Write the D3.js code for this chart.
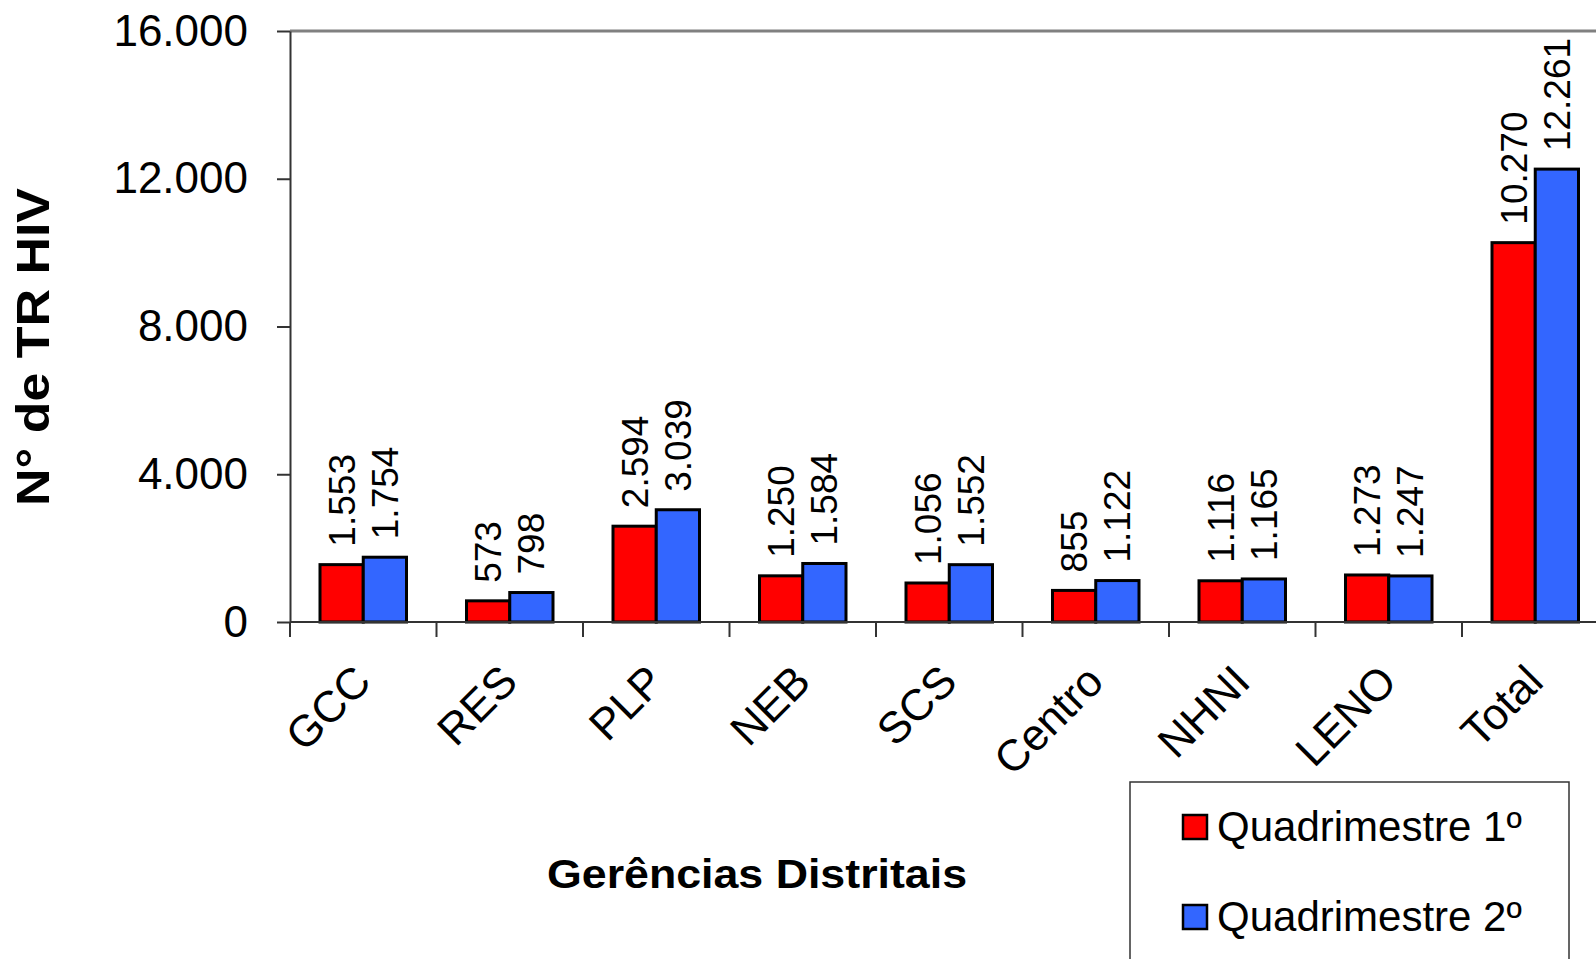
<!DOCTYPE html>
<html>
<head>
<meta charset="utf-8">
<script src="https://cdn.jsdelivr.net/npm/d3@7"></script>
<style>
  body { margin: 0; background: #fff; }
  svg { display: block; font-family: "Liberation Sans", Arial, sans-serif; }
  .axis path, .axis line { stroke: #333; stroke-width: 2; }
  .axis text { font-size: 44px; fill: #000; }
</style>
</head>
<body>
<div id="chart"></div>
<script>
// Data
const categories = ["GCC", "RES", "PLP", "NEB", "SCS", "Centro", "NHNI", "LENO", "Total"];
const series = ["Quadrimestre 1º", "Quadrimestre 2º"];
const q1Values = [1553, 573, 2594, 1250, 1056, 855, 1116, 1273, 10270];
const q2Values = [1754, 798, 3039, 1584, 1552, 1122, 1165, 1247, 12261];
const yTicks = [0, 4000, 8000, 12000, 16000];
const colors = ["#FF0000", "#3366FF"];

const width = 1596, height = 959;
const plot = {left: 290, top: 31, bottom: 622, band: 146.5};

const svg = d3.select("#chart").append("svg")
    .attr("width", width)
    .attr("height", height);

const fmt = d3.formatLocale({decimal: ",", thousands: ".", grouping: [3], currency: ["", ""]}).format(",d");

// Scales
const x0 = d3.scaleBand()
    .domain(categories)
    .range([plot.left, plot.left + plot.band * categories.length]);

const x1 = d3.scaleBand()
    .domain(series)
    .range([30, plot.band - 30]);

const y = d3.scaleLinear()
    .domain([0, 16000])
    .range([plot.bottom, plot.top]);

// Plot frame (top edge, right edge runs off the page)
svg.append("line")
    .attr("x1", plot.left).attr("x2", x0.range()[1])
    .attr("y1", plot.top).attr("y2", plot.top)
    .attr("stroke", "#808080").attr("stroke-width", 3);

// Y axis
svg.append("g")
    .attr("class", "axis")
    .attr("transform", `translate(${plot.left},0)`)
    .call(d3.axisLeft(y).tickValues(yTicks).tickSize(13).tickPadding(29).tickSizeOuter(0).tickFormat(fmt));

// Bars
const rows = categories.map((c, i) => ({cat: c, vals: [q1Values[i], q2Values[i]]}));

const groups = svg.append("g").selectAll("g")
    .data(rows)
    .join("g")
    .attr("transform", d => `translate(${x0(d.cat)},0)`);

groups.selectAll("rect")
    .data(d => d.vals.map((v, k) => ({key: series[k], v, k})))
    .join("rect")
    .attr("x", d => x1(d.key))
    .attr("y", d => y(d.v))
    .attr("width", x1.bandwidth())
    .attr("height", d => y(0) - y(d.v))
    .attr("fill", d => colors[d.k])
    .attr("stroke", "#000")
    .attr("stroke-width", 3);

// Value labels
groups.selectAll("text")
    .data(d => d.vals.map((v, k) => ({key: series[k], v, k})))
    .join("text")
    .attr("transform", d => `translate(${x1(d.key) + x1.bandwidth() / 2},${y(d.v) - 18}) rotate(-90)`)
    .attr("dy", "0.35em")
    .attr("font-size", 37)
    .text(d => fmt(d.v));

// X axis line and boundary ticks
const xAxis = svg.append("g").attr("class", "axis");
xAxis.append("line")
    .attr("x1", plot.left).attr("x2", x0.range()[1])
    .attr("y1", plot.bottom).attr("y2", plot.bottom);
xAxis.selectAll("line.tick")
    .data(categories.map(c => x0(c)).concat([x0.range()[1]]))
    .join("line")
    .attr("class", "tick")
    .attr("x1", d => d).attr("x2", d => d)
    .attr("y1", plot.bottom).attr("y2", plot.bottom + 15);

xAxis.selectAll("text")
    .data(categories)
    .join("text")
    .attr("transform", d => `translate(${x0(d) + x0.bandwidth() / 2 - 12},${plot.bottom + 40}) rotate(-45)`)
    .attr("text-anchor", "end")
    .attr("dy", "0.71em")
    .text(d => d);

// Axis titles
svg.append("text")
    .attr("x", 757).attr("y", 888)
    .attr("text-anchor", "middle")
    .attr("font-size", 40)
    .attr("font-weight", "bold")
    .attr("textLength", 420)
    .attr("lengthAdjust", "spacingAndGlyphs")
    .text("Gerências Distritais");

svg.append("text")
    .attr("transform", "translate(33,347) rotate(-90)")
    .attr("text-anchor", "middle")
    .attr("dy", "0.35em")
    .attr("font-size", 46)
    .attr("font-weight", "bold")
    .attr("textLength", 318)
    .attr("lengthAdjust", "spacingAndGlyphs")
    .text("N° de TR HIV");

// Legend
const legend = svg.append("g");
legend.append("rect")
    .attr("x", 1130).attr("y", 782)
    .attr("width", 439).attr("height", 200)
    .attr("fill", "#fff")
    .attr("stroke", "#333")
    .attr("stroke-width", 1.5);

const items = legend.selectAll("g")
    .data(series)
    .join("g")
    .attr("transform", (d, i) => `translate(1183,${815 + i * 90})`);

items.append("rect")
    .attr("width", 24).attr("height", 24)
    .attr("fill", (d, i) => colors[i])
    .attr("stroke", "#000")
    .attr("stroke-width", 2.5);

items.append("text")
    .attr("x", 34).attr("y", 26)
    .attr("font-size", 42)
    .text(d => d);
</script>
</body>
</html>
